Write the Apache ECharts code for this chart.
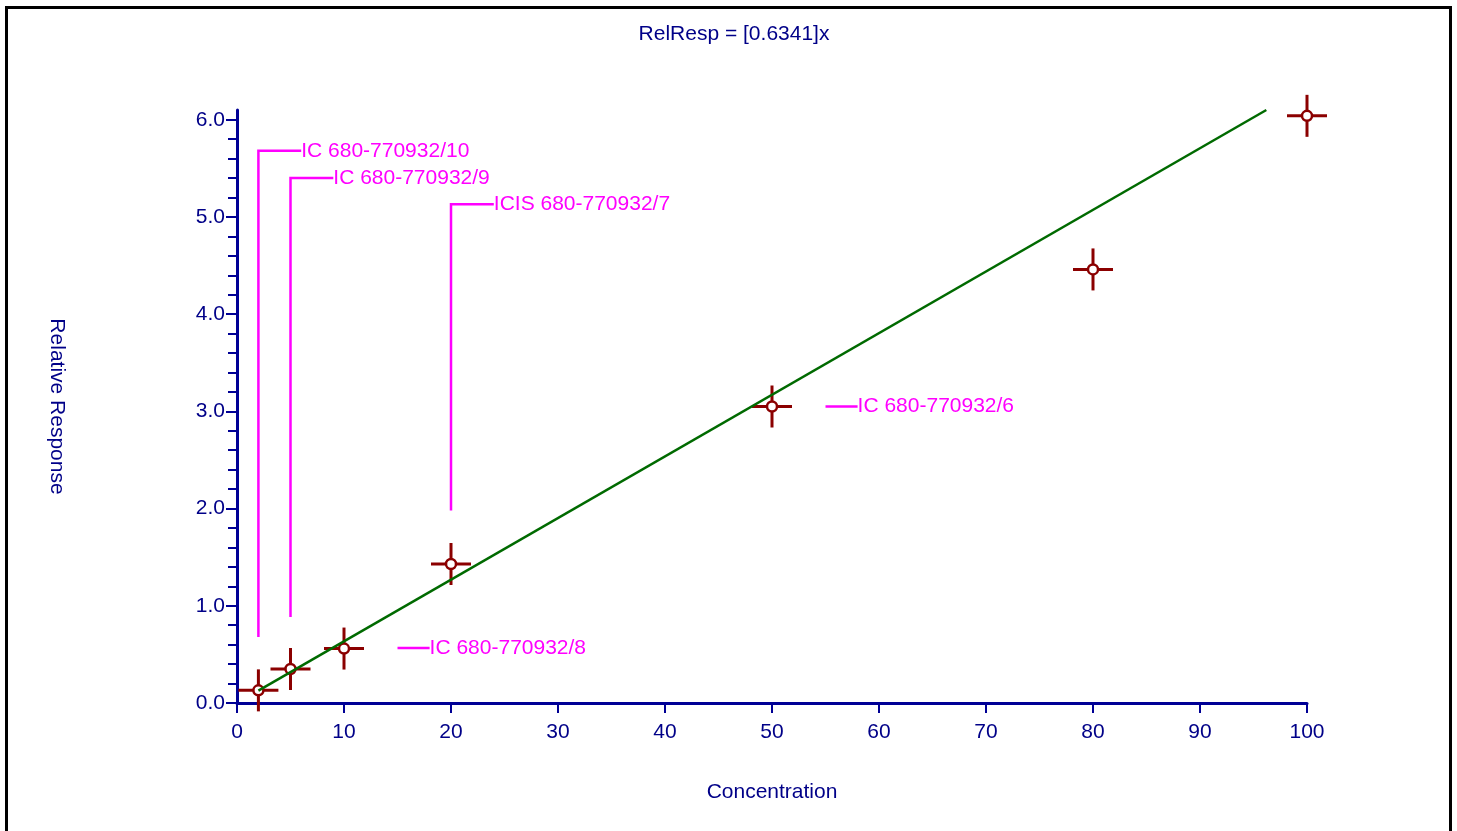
<!DOCTYPE html>
<html>
<head>
<meta charset="utf-8">
<script src="https://cdn.jsdelivr.net/npm/echarts@6/dist/echarts.min.js"></script>
<style>html,body{margin:0;padding:0;background:#fff;}#c{width:1457px;height:831px;}</style>
</head>
<body>
<div id="c"></div>
<script>
// ---- data ----
var titleText = 'RelResp = [0.6341]x';
var xName = 'Concentration';
var yName = 'Relative Response';
var concentrations = [2, 5, 10, 20, 50, 80, 100];
var responses = [0.13, 0.35, 0.56, 1.43, 3.05, 4.46, 6.04];
var fitLine = [[2, 0.127], [96.2, 6.1]];
var xTicks = [0, 10, 20, 30, 40, 50, 60, 70, 80, 90, 100];
var yTicks = [0, 1, 2, 3, 4, 5, 6];
var yMinorTicks = [0.2, 0.4, 0.6, 0.8, 1.2, 1.4, 1.6, 1.8, 2.2, 2.4, 2.6, 2.8, 3.2, 3.4, 3.6, 3.8, 4.2, 4.4, 4.6, 4.8, 5.2, 5.4, 5.6, 5.8];
var annotLabels = ['IC 680-770932/10', 'IC 680-770932/9', 'ICIS 680-770932/7', 'IC 680-770932/8', 'IC 680-770932/6'];
var annotPaths = [
  [[2, 0.68], [2, 5.68], [6, 5.68]],
  [[5, 0.885], [5, 5.40], [9, 5.40]],
  [[20, 1.98], [20, 5.13], [24, 5.13]],
  [[15, 0.566], [18, 0.566]],
  [[55, 3.05], [58, 3.05]]
];

var AXIS = '#000095';
var TXT = '#000088';
var PT = '#8B0000';
var MAG = '#FF00FF';
var FONT = 'Liberation Sans, Arial, sans-serif';
var FS = 21;

var chart = echarts.init(document.getElementById('c'), null, {renderer: 'canvas'});

var pointData = concentrations.map(function (c, i) { return [c, responses[i]]; });

var option = {
  animation: false,
  backgroundColor: '#fff',
  title: {
    text: titleText, left: 729, top: 19, textAlign: 'center',
    textStyle: {color: TXT, fontFamily: FONT, fontSize: FS, fontWeight: 'normal'}
  },
  grid: {left: 237, right: 150, top: 110, bottom: 128, containLabel: false, outerBoundsMode: 'none'},
  xAxis: {
    type: 'value', min: 0, max: 100, interval: 10,
    name: xName, nameLocation: 'middle', nameGap: 79,
    nameTextStyle: {color: TXT, fontFamily: FONT, fontSize: FS},
    axisLine: {show: true, onZero: false, lineStyle: {color: AXIS, width: 3}},
    axisTick: {show: true, length: 10, lineStyle: {color: AXIS, width: 2}, customValues: xTicks},
    axisLabel: {color: TXT, fontFamily: FONT, fontSize: FS, margin: 19, customValues: xTicks},
    splitLine: {show: false}
  },
  yAxis: [{
    type: 'value', min: 0, max: 6.1,
    name: yName, nameLocation: 'middle', nameGap: 170, nameRotate: -90,
    nameTextStyle: {color: TXT, fontFamily: FONT, fontSize: FS},
    axisLine: {show: true, onZero: false, lineStyle: {color: AXIS, width: 3}},
    axisTick: {show: true, length: 11, lineStyle: {color: AXIS, width: 2}, customValues: yTicks},
    axisLabel: {color: TXT, fontFamily: FONT, fontSize: FS, margin: 12, customValues: yTicks,
      formatter: function (v) { return v.toFixed(1); }},
    splitLine: {show: false}
  }, {
    type: 'value', min: 0, max: 6.1, position: 'left',
    axisLine: {show: false},
    axisTick: {show: true, length: 9, lineStyle: {color: AXIS, width: 2}, customValues: yMinorTicks},
    axisLabel: {show: false},
    splitLine: {show: false}
  }],
  series: [
    {
      type: 'custom', name: 'annotations', coordinateSystem: 'cartesian2d', z: 2,
      data: annotLabels.map(function (l, i) { return [i]; }),
      renderItem: function (params, api) {
        var i = api.value(0);
        var pts = annotPaths[i].map(function (p) { return api.coord(p); });
        var end = pts[pts.length - 1];
        return {
          type: 'group',
          children: [
            {type: 'polyline', shape: {points: pts}, style: {stroke: MAG, lineWidth: 2.5, fill: null}},
            {type: 'text', x: end[0], y: end[1],
              style: {text: annotLabels[i], fill: MAG, font: FS + 'px ' + FONT, textAlign: 'left', textVerticalAlign: 'middle'}}
          ]
        };
      }
    },
    {
      type: 'custom', name: 'points', coordinateSystem: 'cartesian2d', z: 3,
      data: pointData,
      renderItem: function (params, api) {
        var c = api.coord([api.value(0), api.value(1)]);
        var s = {stroke: PT, lineWidth: 3};
        return {
          type: 'group',
          children: [
            {type: 'line', shape: {x1: c[0] - 20, y1: c[1], x2: c[0] + 20, y2: c[1]}, style: s},
            {type: 'line', shape: {x1: c[0], y1: c[1] - 21, x2: c[0], y2: c[1] + 21}, style: s},
            {type: 'circle', shape: {cx: c[0], cy: c[1], r: 5}, style: {fill: '#fff', stroke: PT, lineWidth: 2.5}}
          ]
        };
      }
    },
    {
      type: 'line', name: 'fit', data: fitLine, z: 4, symbol: 'none',
      lineStyle: {color: '#006A00', width: 2.5}
    }
  ],
  graphic: [{
    type: 'rect', shape: {x: 6.5, y: 7.5, width: 1444, height: 900},
    style: {fill: null, stroke: '#000', lineWidth: 3}, silent: true
  }]
};
chart.setOption(option);
</script>
</body>
</html>
